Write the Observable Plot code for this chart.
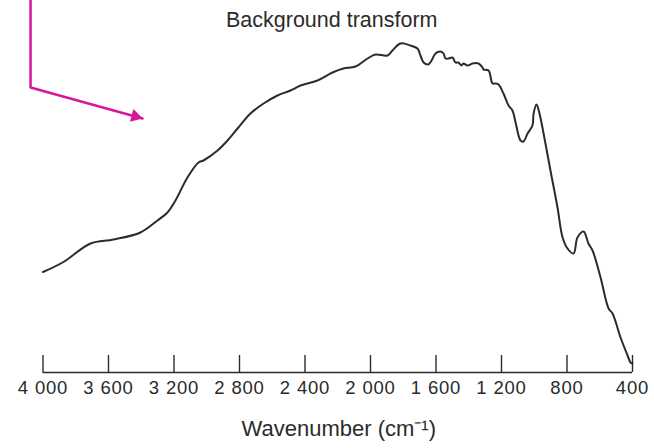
<!DOCTYPE html>
<html>
<head>
<meta charset="utf-8">
<script src="https://cdn.jsdelivr.net/npm/d3@7"></script>
<script src="https://cdn.jsdelivr.net/npm/@observablehq/plot@0.6"></script>
<style>
  html, body { margin: 0; padding: 0; background: #fff; }
  #chart svg { display: block; font-family: "Liberation Sans", Arial, sans-serif; }
  #chart svg g[aria-label="x-axis tick label"] text { letter-spacing: 0.8px; }
</style>
</head>
<body>
<div id="chart"></div>
<script>
// Wavenumbers (cm^-1)
const wavenumber = [4000, 3875, 3710, 3569, 3405, 3301, 3240, 3191, 3118, 3050, 3020, 2934, 2873, 2812, 2733, 2653, 2568, 2489, 2427, 2324, 2232, 2165, 2092, 2018, 1969, 1896, 1866, 1817, 1756, 1713, 1695, 1676, 1646, 1627, 1603, 1572, 1554, 1542, 1524, 1499, 1481, 1463, 1444, 1432, 1408, 1377, 1340, 1316, 1310, 1279, 1255, 1237, 1218, 1188, 1157, 1133, 1114, 1084, 1066, 1041, 1011, 1004, 986, 968, 943, 901, 858, 827, 797, 760, 736, 699, 669, 644, 595, 546, 522, 473, 430, 412, 400];
// Signal (arbitrary units) at each wavenumber
const signal = [100.5, 110.5, 129, 133, 140, 152, 160, 172, 195, 210, 212, 222, 232, 244, 259, 269, 277, 282, 287, 292, 300, 304, 306, 314, 318, 317, 322, 329, 327, 324, 317, 310, 308, 312, 319, 321, 319, 314, 314, 315, 310, 310, 307, 309, 307, 309, 309, 305, 303, 302, 289, 289, 288, 279, 267, 262, 250, 232, 231, 239, 247, 259, 268, 259, 239, 202, 165, 135, 124, 119, 135, 141, 129, 122, 95, 64, 59, 35, 17, 10, 9];

const tickValues = [4000, 3600, 3200, 2800, 2400, 2000, 1600, 1200, 800, 400];
const titleText = "Background transform";
const xLabel = "Wavenumber (cm\u207B\u00B9)";

// Magenta pointer (data coordinates)
const pointerX = [4076, 4076, 3392];
const pointerY = [372, 285, 254];
const pointerHead = {x: 3436, y: 256};

const spectrum = wavenumber.map((w, i) => ({w, s: signal[i]}));
const pointer = pointerX.map((x, i) => ({x, y: pointerY[i]}));
const fmt = d => d >= 1000 ? d3.format(",")(d).replace(",", " ") : String(d);

const magenta = "#d6179b";
const ink = "#2b2b2b";

const chart = Plot.plot({
  width: 654,
  height: 448,
  marginLeft: 42.5,
  marginRight: 22,
  marginTop: 42,
  marginBottom: 76,
  style: {background: "#fff", color: ink, fontFamily: "'Liberation Sans', Arial, sans-serif"},
  x: {domain: [4000, 400]},
  y: {domain: [0, 330], axis: null},
  marks: [
    Plot.ruleY([0], {stroke: ink, strokeWidth: 1.4}),
    Plot.ruleX(tickValues, {x: d => d, y1: 0, y2: 17, stroke: ink, strokeWidth: 1.4}),
    Plot.axisX({ticks: tickValues, tickSize: 0, tickPadding: 8, tickFormat: fmt, fontSize: 18.5, label: null, fill: ink}),
    Plot.line(spectrum, {x: "w", y: "s", stroke: ink, strokeWidth: 2, curve: "catmull-rom"}),
    Plot.line(pointer, {x: "x", y: "y", stroke: magenta, strokeWidth: 2.5}),
    Plot.dot([pointerHead], {x: "x", y: "y", symbol: "triangle", r: 4.9, rotate: 105.5, fill: magenta, stroke: "none"}),
    Plot.text([titleText], {frameAnchor: "top", dx: -6, dy: -22, lineAnchor: "middle", fontSize: 21.5, fill: ink}),
    Plot.text([xLabel], {frameAnchor: "bottom", dx: 1, dy: 56, lineAnchor: "middle", fontSize: 22, fill: ink})
  ]
});
document.getElementById("chart").appendChild(chart);
</script>
</body>
</html>
